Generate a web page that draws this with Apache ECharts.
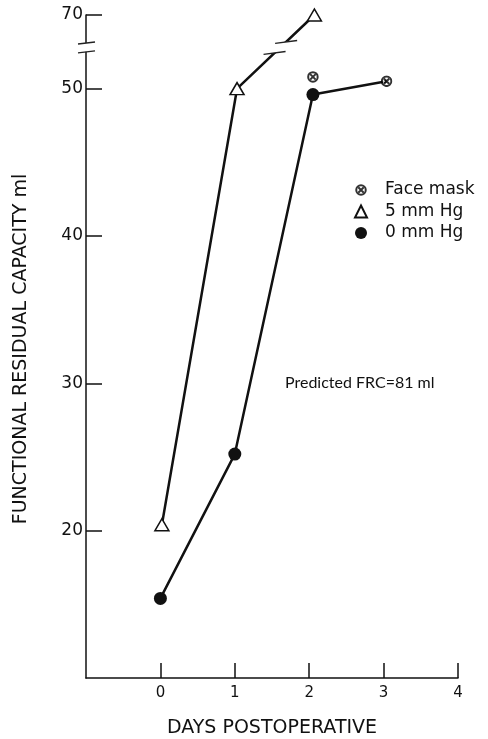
<!DOCTYPE html>
<html>
<head>
<meta charset="utf-8">
<script src="https://cdn.jsdelivr.net/npm/echarts@6/dist/echarts.min.js"></script>
<style>html,body{margin:0;padding:0;background:#fff}#c{width:488px;height:739px}</style>
</head>
<body>
<div id="c"></div>
<script>
// ---- data ----
const days0 = [0, 1, 2.05];
const frc0 = [15.4, 25.2, 49.6];          // 0 mm Hg
const days5 = [0.02, 1.03, 2.07];
const frc5 = [20.4, 50, 70];              // 5 mm Hg (70 is above the axis break)
const daysMask = [2.05, 3.04];
const frcMask = [50.8, 50.5];             // Face mask
const xTicks = [0, 1, 2, 3, 4];
const yTicks = [20, 30, 40, 50, 70];
const predictedText = 'Predicted FRC=81 ml';

// broken axis: linear up to 52.5, then compressed so that 70 sits where 55 would be
const BRK = 52.5, TOPV = 70, TOPA = 55;
const SC = (TOPA - BRK) / (TOPV - BRK);
function toAxis(v) { return v > BRK ? BRK + (v - BRK) * SC : v; }
function fromAxis(v) { return v > BRK ? BRK + (v - BRK) / SC : v; }

const FONT = '"DejaVu Sans"';
const maskSvg = 'image://data:image/svg+xml;charset=utf-8,' + encodeURIComponent(
  '<svg xmlns="http://www.w3.org/2000/svg" width="24" height="24" viewBox="0 0 24 24">' +
  '<circle cx="12" cy="12" r="9.5" fill="white" stroke="black" stroke-width="4"/>' +
  '<path d="M6.5 6.5L17.5 17.5M17.5 6.5L6.5 17.5" stroke="black" stroke-width="4"/></svg>');

const pts = (xs, ys) => xs.map((x, i) => [x, toAxis(ys[i])]);
const s0 = pts(days0, frc0), s5 = pts(days5, frc5), sm = pts(daysMask, frcMask);

const chart = echarts.init(document.getElementById('c'), null, {renderer: 'canvas'});
chart.setOption({
  animation: false,
  backgroundColor: '#fff',
  grid: {left: 86, right: 30, top: 15, bottom: 61, containLabel: false, outerBoundsMode: 'none'},
  xAxis: {
    type: 'value', min: -1, max: 4, interval: 1,
    name: 'DAYS POSTOPERATIVE', nameLocation: 'middle', nameGap: 41,
    nameTextStyle: {fontFamily: FONT, fontSize: 19, color: '#111'},
    axisLine: {show: true, onZero: false, lineStyle: {color: '#111', width: 1.5}},
    axisTick: {show: true, inside: true, length: 15, customValues: xTicks, lineStyle: {color: '#111', width: 1.5}},
    axisLabel: {customValues: xTicks, margin: 8, fontFamily: FONT, fontSize: 15, color: '#111'},
    splitLine: {show: false}
  },
  yAxis: {
    type: 'value', min: 10, max: 55, interval: 5,
    axisLine: {show: true, onZero: false, lineStyle: {color: '#111', width: 1.5}},
    axisTick: {show: true, inside: true, length: 16, customValues: yTicks.map(toAxis), lineStyle: {color: '#111', width: 1.5}},
    axisLabel: {customValues: yTicks.map(toAxis), margin: 3, fontFamily: FONT, fontSize: 17, color: '#111',
      formatter: v => String(Math.round(fromAxis(v)))},
    splitLine: {show: false}
  },
  legend: {
    orient: 'vertical', left: 349, top: 175, itemGap: 1.5, itemWidth: 12, itemHeight: 12,
    textStyle: {fontFamily: FONT, fontSize: 17, color: '#111', lineHeight: 20, padding: [0, 0, 0, 13]},
    data: [
      {name: 'Face mask', icon: maskSvg},
      {name: '5 mm Hg', icon: 'triangle'},
      {name: '0 mm Hg', icon: 'circle'}
    ]
  },
  graphic: [
    {type: 'text', x: 21, y: 349, rotation: Math.PI / 2,
      style: {text: 'FUNCTIONAL RESIDUAL CAPACITY ml', font: '19px ' + FONT, fill: '#111', align: 'center', verticalAlign: 'middle'}},
    {type: 'text', x: 285, y: 383,
      style: {text: predictedText, font: '16px Lato', fill: '#111', align: 'left', verticalAlign: 'middle'}}
  ],
  series: [
    {name: '0 mm Hg', type: 'line', data: s0, symbol: 'circle', symbolSize: 13,
      lineStyle: {color: '#111', width: 2.5}, itemStyle: {color: '#111'}, z: 3},
    {name: 'link', type: 'line', data: [s0[s0.length - 1], sm[sm.length - 1]], symbol: 'none',
      lineStyle: {color: '#111', width: 2.5}, z: 2},
    {name: '5 mm Hg', type: 'line', data: s5, symbol: 'triangle', symbolSize: [14, 12],
      lineStyle: {color: '#111', width: 2.5}, itemStyle: {color: '#fff', borderColor: '#111', borderWidth: 1.5}, z: 4},
    {name: 'Face mask', type: 'scatter', data: sm, symbol: maskSvg, symbolSize: 12, z: 5},
    // axis and line break marks
    {type: 'custom', silent: true, clip: false, z: 6, data: [[0]],
      renderItem: function (params, api) {
        const lo = api.coord([-1, 52.5]), hi = api.coord([-1, 53.1]);
        const ax = lo[0];
        const a = api.coord(s5[1]), b = api.coord(s5[2]);
        const t = 0.56;
        const mx = a[0] + (b[0] - a[0]) * t, my = a[1] + (b[1] - a[1]) * t;
        const k = (b[0] - a[0]) / (b[1] - a[1]); // dx per dy along the line
        const off = 5.5, hw = 11, sl = 0.13;
        const c1 = [mx + k * off, my + off], c2 = [mx - k * off, my - off];
        const blackLine = (p, q) => ({type: 'line', shape: {x1: p[0], y1: p[1], x2: q[0], y2: q[1]}, style: {stroke: '#222', lineWidth: 1.3}});
        return {type: 'group', children: [
          {type: 'rect', shape: {x: ax - 4, y: hi[1], width: 8, height: lo[1] - hi[1]}, style: {fill: '#fff'}},
          blackLine([ax - 8, hi[1] + 1], [ax + 9, hi[1] - 1]),
          blackLine([ax - 8, lo[1] + 1], [ax + 9, lo[1] - 1]),
          {type: 'polygon', shape: {points: [
            [c1[0] - hw, c1[1] + hw * sl], [c1[0] + hw, c1[1] - hw * sl],
            [c2[0] + hw, c2[1] - hw * sl], [c2[0] - hw, c2[1] + hw * sl]]}, style: {fill: '#fff'}},
          blackLine([c1[0] - hw, c1[1] + hw * sl], [c1[0] + hw, c1[1] - hw * sl]),
          blackLine([c2[0] - hw, c2[1] + hw * sl], [c2[0] + hw, c2[1] - hw * sl])
        ]};
      }}
  ]
});
</script>
</body>
</html>
